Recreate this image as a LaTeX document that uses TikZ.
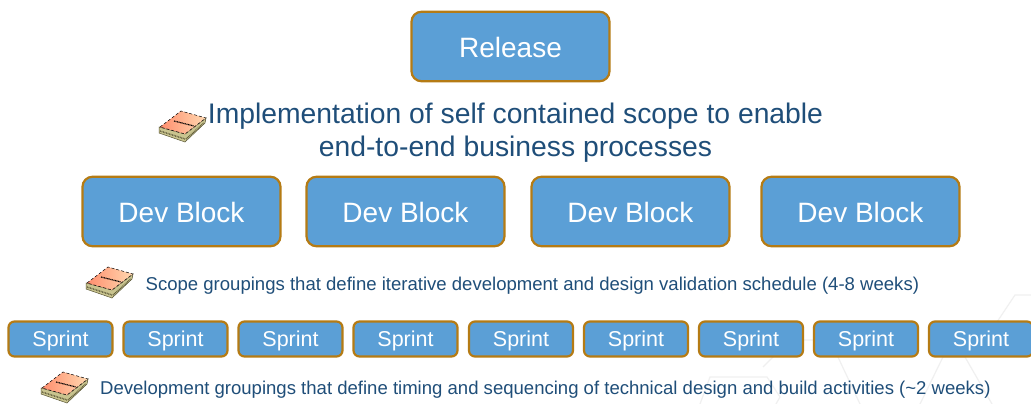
\documentclass[tikz,border=0pt]{standalone}
\usepackage{fontspec}
\setmainfont{Liberation Sans}
\definecolor{boxfill}{HTML}{5B9FD6}
\definecolor{boxline}{HTML}{B57B14}
\definecolor{captxt}{HTML}{1F4E79}
\definecolor{hexline}{HTML}{F0F0F0}
\definecolor{bookpage}{HTML}{C9C48F}
\definecolor{bookdark}{HTML}{5A5636}
\definecolor{bookA}{HTML}{FF8E6E}
\definecolor{bookB}{HTML}{FFD8B0}
\tikzset{
  x=1pt,y=-1pt,
  bigbox/.style={draw=boxline,line width=2.2pt,fill=boxfill,rounded corners=10pt,text=white,font=\fontsize{28}{32}\selectfont,minimum width=198pt,minimum height=69.5pt,inner sep=0pt,text height=22pt,text depth=0pt},
  smallbox/.style={draw=boxline,line width=2.2pt,fill=boxfill,rounded corners=6pt,text=white,font=\fontsize{21.5}{24}\selectfont,minimum width=104pt,minimum height=35pt,inner sep=0pt,text height=20pt,text depth=5pt},
  bigcap/.style={text=captxt,font=\fontsize{28.3}{33}\selectfont,align=center,inner sep=0pt},
  smallcap/.style={text=captxt,font=\fontsize{18.55}{21}\selectfont,anchor=west,inner sep=0pt},
  hex/.style={draw=hexline,line width=1.2pt},
  book/.pic={
    \fill[bookpage,draw=bookdark,line width=.5pt] (-24,1) -- (-24,7) -- (2,16) -- (22,-3) -- (23,-8) -- (2,8) -- cycle;
    \draw[bookdark,line width=1.4pt,dash pattern=on .8pt off .8pt] (-23,5) -- (2,13);
    \draw[bookdark,line width=1.4pt,dash pattern=on .8pt off .8pt] (3,13) -- (21,-3);
    \shade[shading=axis,shading angle=60,left color=bookA,right color=bookB,draw=black,line width=.5pt,densely dashed] (-23,1) -- (-2,-15) -- (23,-8) -- (2,8) -- cycle;
    \draw[black,line width=1.1pt,dash pattern=on 1pt off .6pt] (-9,-5) -- (11,0);
  }
}
\begin{document}
\begin{tikzpicture}
\useasboundingbox (0,0) rectangle (1031,404);
\fill[white] (0,0) rectangle (1031,404);
\begin{scope}
\clip (0,0) rectangle (1031,404);
\draw[hex] (1031,295) -- (1015,295) -- (985,340) -- (943,357) -- (920,404);
\draw[hex] (943,357) -- (965,357) -- (992,404);
\draw[hex] (700,404) -- (710,377) -- (767,377) -- (780,397) -- (776,404);
\draw[hex] (763,367) -- (790,340) -- (830,340) -- (860,404);
\end{scope}
\node[bigbox] (release) at (510.5,46.5) {Release};
\node[bigcap] (impl) at (515.5,132.5) {Implementation of self contained scope to enable\\end-to-end business processes};
\node[bigbox] (dev1) at (181.5,211.5) {Dev Block};
\node[bigbox] (dev2) at (405.5,211.5) {Dev Block};
\node[bigbox] (dev3) at (630.5,211.5) {Dev Block};
\node[bigbox] (dev4) at (860.5,211.5) {Dev Block};
\node[smallcap] (scope) at (145.5,285.5) {Scope groupings that define iterative development and design validation schedule (4-8 weeks)};
\foreach \n/\cx in {1/60.5,2/175.5,3/290.5,4/405.5,5/521,6/636,7/751,8/866,9/981}
  \node[smallbox] (s\n) at (\cx,339) {Sprint};
\node[smallcap] (dev) at (100,390) {Development groupings that define timing and sequencing of technical design and build activities (\textasciitilde 2 weeks)};
\pic at (183,126) {book};
\pic at (110,282) {book};
\pic at (65,387) {book};
\end{tikzpicture}
\end{document}
